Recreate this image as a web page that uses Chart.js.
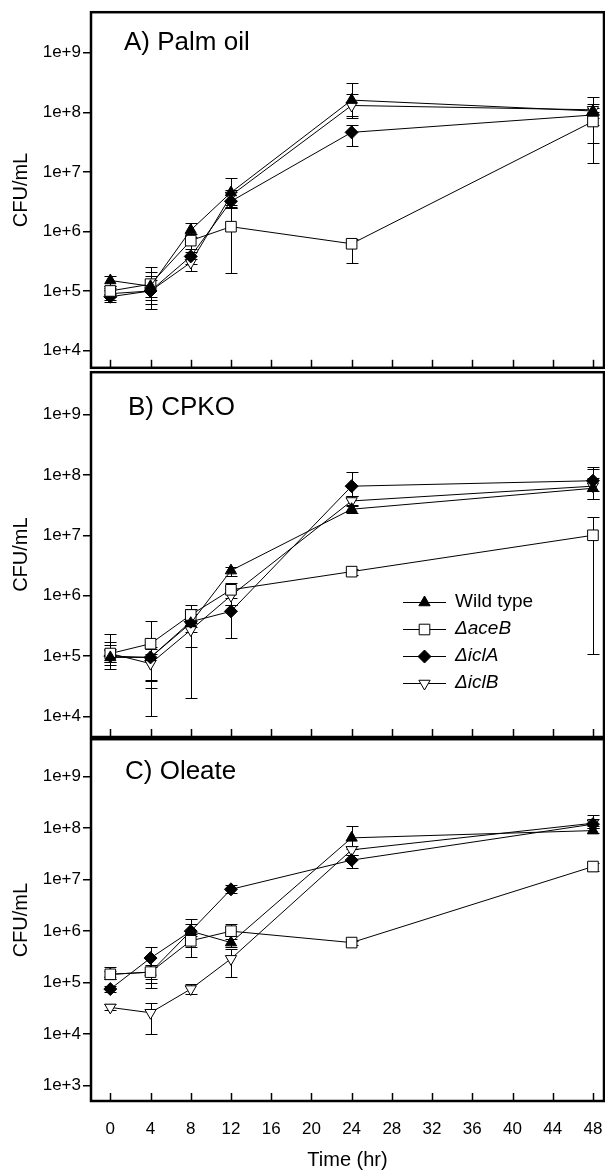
<!DOCTYPE html>
<html>
<head>
<meta charset="utf-8">
<script src="https://cdn.jsdelivr.net/npm/chart.js@4.4.1/dist/chart.umd.min.js"></script>
<style>
  body { margin: 0; background: #fff; }
  #wrap { position: relative; width: 605px; height: 1174px; }
  canvas { position: absolute; left: 0; }
</style>
</head>
<body>
<div id="wrap">
  <canvas id="chartA" width="605" height="380" style="top:0px"></canvas>
  <canvas id="chartB" width="605" height="390" style="top:360px"></canvas>
  <canvas id="chartC" width="605" height="447" style="top:727px"></canvas>
</div>
<script>
// sampling times (hr) and axis ticks
const times = [0, 4, 8, 12, 24, 48];
const xTicks = [0, 4, 8, 12, 16, 20, 24, 28, 32, 36, 40, 44, 48];
const yTicksAB = [1e4, 1e5, 1e6, 1e7, 1e8, 1e9];
const yTicksC = [1e3, 1e4, 1e5, 1e6, 1e7, 1e8, 1e9];
const seriesNames = ['Wild type', '\u0394aceB', '\u0394iclA', '\u0394iclB'];

// A) Palm oil
const palmWt = [1.5e5, 1.2e5, 1.05e6, 4.5e6, 1.6e8, 1.05e8];
const palmWtHi = [1.8e5, 2.5e5, 1.4e6, 8e6, 3.1e8, 1.8e8];
const palmWtLo = [1.2e5, 6e4, 8e5, 2.6e6, 8.5e7, 6e7];
const palmAce = [1.0e5, 1.3e5, 7e5, 1.2e6, 6.2e5, 7e7];
const palmAceHi = [1.2e5, 2.1e5, 9e5, 2.5e6, 7.5e5, 1.0e8];
const palmAceLo = [8e4, 8e4, 5e5, 2e5, 3e5, 1.4e7];
const palmIclA = [8e4, 1.0e5, 3.8e5, 3.2e6, 4.6e7, 9e7];
const palmIclAHi = [9e4, 1.8e5, 4.5e5, 4.5e6, 6e7, 1.2e8];
const palmIclALo = [6.5e4, 5e4, 2.8e5, 2.5e6, 2.7e7, 3e7];
const palmIclB = [9e4, 1.0e5, 3.0e5, 4e6, 1.3e8, 1.1e8];
const palmIclBHi = [1.1e5, 1.5e5, 3.5e5, 5e6, 2e8, 1.4e8];
const palmIclBLo = [7e4, 7e4, 2.2e5, 2.8e6, 8e7, 8e7];

// B) CPKO
const cpkoWt = [9.5e4, 9.5e4, 3.5e5, 2.6e6, 2.7e7, 6e7];
const cpkoWtHi = [1.3e5, 1.3e5, 5e5, 3e6, 3.2e7, 1.35e8];
const cpkoWtLo = [7e4, 4e4, 2.5e5, 2.1e6, 2.3e7, 4e7];
const cpkoAce = [1.1e5, 1.6e5, 4.8e5, 1.25e6, 2.5e6, 1e7];
const cpkoAceHi = [1.7e5, 3.8e5, 7e5, 1.6e6, 2.8e6, 2e7];
const cpkoAceLo = [8e4, 1e4, 3e5, 9e5, 2.2e6, 1.1e5];
const cpkoIclA = [1.0e5, 9.5e4, 3.7e5, 5.5e5, 6.5e7, 8e7];
const cpkoIclAHi = [1.5e5, 1.4e5, 6e5, 7e5, 1.1e8, 1.25e8];
const cpkoIclALo = [6e4, 3e4, 1.4e5, 2e5, 4.5e7, 5.5e7];
const cpkoIclB = [1.1e5, 7.5e4, 2.7e5, 1.0e6, 3.7e7, 6.5e7];
const cpkoIclBHi = [2.3e5, 1.1e5, 3.5e5, 1.3e6, 4.5e7, 9e7];
const cpkoIclBLo = [8e4, 3.8e4, 2e4, 7e5, 3e7, 4e7];

// C) Oleate
const oleWt = [1.45e5, 1.6e5, 1.0e6, 6e5, 6.5e7, 9e7];
const oleWtHi = [1.7e5, 2e5, 1.7e6, 7e5, 1.1e8, 1.1e8];
const oleWtLo = [1.2e5, 1.2e5, 5e5, 5e5, 4e7, 8e7];
const oleAce = [1.45e5, 1.6e5, 6.5e5, 1.0e6, 6e5, 1.8e7];
const oleAceHi = [2e5, 2.2e5, 9e5, 1.4e6, 6.5e5, 2.1e7];
const oleAceLo = [1.2e5, 8e4, 3.2e5, 8e5, 5.5e5, 1.5e7];
const oleIclA = [7.5e4, 3e5, 1.0e6, 6.5e6, 2.4e7, 1.2e8];
const oleIclAHi = [8.5e4, 5e5, 1.4e6, 8e6, 3e7, 1.5e8];
const oleIclALo = [6.5e4, 1e5, 8e5, 5.5e6, 1.7e7, 1e8];
const oleIclB = [3.3e4, 2.6e4, 7.5e4, 2.9e5, 3.8e7, 1.25e8];
const oleIclBHi = [3.8e4, 4e4, 9.5e4, 4.5e5, 4.5e7, 1.8e8];
const oleIclBLo = [2.9e4, 1e4, 6e4, 1.3e5, 3e7, 1e8];

const FONT = '"Liberation Sans", Arial, sans-serif';

const markers = [
  { pointStyle: 'triangle', bg: '#000', radius: 6.5, rotation: 0 },
  { pointStyle: 'rect', bg: '#fff', radius: 7.5, rotation: 0 },
  { pointStyle: 'rectRot', bg: '#000', radius: 6.5, rotation: 0 },
  { pointStyle: 'triangle', bg: '#fff', radius: 6.5, rotation: 180 }
];

function makeDataset(i, vals, hi, lo, order) {
  const m = markers[i];
  return {
    label: seriesNames[i],
    data: times.map((t, k) => ({ x: t, y: vals[k] })),
    errHi: hi,
    errLo: lo,
    order: order || 0,
    borderColor: '#000',
    borderWidth: 1,
    pointStyle: m.pointStyle,
    pointRadius: m.radius,
    pointHoverRadius: m.radius,
    pointRotation: m.rotation,
    pointBackgroundColor: m.bg,
    pointBorderColor: '#000',
    pointBorderWidth: 1,
    tension: 0,
    clip: false
  };
}

// error bars, drawn under the markers
const errorBars = {
  id: 'errorBars',
  beforeDatasetsDraw(chart) {
    const { ctx, scales: { x, y } } = chart;
    ctx.save();
    ctx.strokeStyle = '#000';
    ctx.lineWidth = 1;
    chart.data.datasets.forEach(ds => {
      ds.data.forEach((p, k) => {
        const px = Math.round(x.getPixelForValue(p.x)) + 0.5;
        const top = Math.round(y.getPixelForValue(ds.errHi[k])) + 0.5;
        const bot = Math.round(y.getPixelForValue(ds.errLo[k])) + 0.5;
        ctx.beginPath();
        ctx.moveTo(px, top); ctx.lineTo(px, bot);
        ctx.moveTo(px - 6, top); ctx.lineTo(px + 6, top);
        ctx.moveTo(px - 6, bot); ctx.lineTo(px + 6, bot);
        ctx.stroke();
      });
    });
    ctx.restore();
  }
};

// frame, inward x ticks and panel title
const framePlugin = {
  id: 'frame',
  afterDraw(chart, args, opts) {
    const { ctx, chartArea: a, scales: { x } } = chart;
    ctx.save();
    ctx.strokeStyle = '#000';
    ctx.lineWidth = 1.5;
    xTicks.forEach(t => {
      const px = Math.round(x.getPixelForValue(t)) + 0.5;
      ctx.beginPath();
      ctx.moveTo(px, a.bottom);
      ctx.lineTo(px, a.bottom - 8);
      ctx.stroke();
    });
    ctx.lineWidth = 2.5;
    ctx.strokeRect(a.left, a.top, a.right - a.left, a.bottom - a.top);
    ctx.fillStyle = '#000';
    ctx.font = '26px ' + FONT;
    ctx.textBaseline = 'middle';
    ctx.textAlign = 'left';
    ctx.fillText(opts.text, opts.x, opts.y);
    ctx.restore();
  }
};

// legend inside panel B
const legendPlugin = {
  id: 'innerLegend',
  afterDraw(chart, args, opts) {
    if (!opts.show) return;
    const { ctx } = chart;
    ctx.save();
    seriesNames.forEach((name, i) => {
      const y = opts.top + i * 27;
      ctx.strokeStyle = '#000';
      ctx.lineWidth = 1;
      ctx.beginPath();
      ctx.moveTo(403, y + 0.5);
      ctx.lineTo(446, y + 0.5);
      ctx.stroke();
      const m = markers[i];
      ctx.fillStyle = m.bg;
      Chart.helpers.drawPoint(ctx, {
        pointStyle: m.pointStyle, radius: m.radius, rotation: m.rotation, borderWidth: 1
      }, 424.5, y + 0.5);
      ctx.fillStyle = '#000';
      ctx.font = (i === 0 ? '' : 'italic ') + '19px ' + FONT;
      ctx.textBaseline = 'middle';
      ctx.textAlign = 'left';
      ctx.fillText(name, 455, y);
    });
    ctx.restore();
  }
};

function makeChart(id, datasets, o) {
  const yTicks = o.yTicks;
  return new Chart(document.getElementById(id), {
    type: 'line',
    data: { datasets },
    options: {
      responsive: false,
      animation: false,
      events: [],
      layout: { autoPadding: false, padding: { top: o.padTop, bottom: o.padBottom, left: 0, right: 1 } },
      plugins: {
        legend: { display: false },
        tooltip: { enabled: false },
        frame: { text: o.title, x: o.titleX, y: o.titleY },
        innerLegend: { show: !!o.legend, top: o.legendTop }
      },
      scales: {
        x: {
          type: 'linear',
          min: -1.92,
          max: 49.1,
          afterBuildTicks: s => { s.ticks = xTicks.map(v => ({ value: v })); },
          afterFit: s => {
            s.height = o.showX ? 73 : 0;
            s.paddingLeft = 0;
            s.paddingRight = 0;
          },
          border: { display: false },
          grid: { display: false },
          ticks: {
            display: !!o.showX,
            color: '#000',
            padding: 10,
            autoSkip: false,
            maxRotation: 0,
            font: { family: FONT, size: 17 }
          },
          title: {
            display: !!o.showX,
            text: 'Time (hr)',
            color: '#000',
            font: { family: FONT, size: 20 },
            padding: { top: 0, bottom: 2 }
          }
        },
        y: {
          type: 'logarithmic',
          min: o.yMin,
          max: o.yMax,
          afterBuildTicks: s => { s.ticks = yTicks.map(v => ({ value: v })); },
          afterFit: s => { s.width = 91; },
          border: { display: false },
          grid: {
            drawOnChartArea: false,
            drawTicks: true,
            tickLength: 8,
            tickColor: '#000',
            lineWidth: 1.5
          },
          ticks: {
            color: '#000',
            padding: 2,
            autoSkip: false,
            font: { family: FONT, size: 17 },
            callback: v => '1e+' + Math.round(Math.log10(v))
          },
          title: {
            display: true,
            text: 'CFU/mL',
            color: '#000',
            font: { family: FONT, size: 20 },
            padding: { top: 9, bottom: 0 }
          }
        }
      }
    },
    plugins: [errorBars, framePlugin, legendPlugin]
  });
}

makeChart('chartA', [
  makeDataset(0, palmWt, palmWtHi, palmWtLo),
  makeDataset(1, palmAce, palmAceHi, palmAceLo),
  makeDataset(2, palmIclA, palmIclAHi, palmIclALo),
  makeDataset(3, palmIclB, palmIclBHi, palmIclBLo)
], { padTop: 8, padBottom: 9, yMin: Math.pow(10, 3.71), yMax: Math.pow(10, 9.68),
     yTicks: yTicksAB, title: 'A) Palm oil', titleX: 124, titleY: 43 });

makeChart('chartB', [
  makeDataset(0, cpkoWt, cpkoWtHi, cpkoWtLo),
  makeDataset(1, cpkoAce, cpkoAceHi, cpkoAceLo),
  makeDataset(2, cpkoIclA, cpkoIclAHi, cpkoIclALo),
  makeDataset(3, cpkoIclB, cpkoIclBHi, cpkoIclBLo)
], { padTop: 11, padBottom: 13, yMin: Math.pow(10, 3.66), yMax: Math.pow(10, 9.70),
     yTicks: yTicksAB, title: 'B) CPKO', titleX: 128, titleY: 48, legend: true, legendTop: 242 });

// in panel C the open squares sit on top of the wild type markers
makeChart('chartC', [
  makeDataset(0, oleWt, oleWtHi, oleWtLo, 2),
  makeDataset(1, oleAce, oleAceHi, oleAceLo, 0),
  makeDataset(2, oleIclA, oleIclAHi, oleIclALo, 1),
  makeDataset(3, oleIclB, oleIclBHi, oleIclBLo, 3)
], { padTop: 10, padBottom: 0, yMin: Math.pow(10, 2.70), yMax: Math.pow(10, 9.73),
     yTicks: yTicksC, title: 'C) Oleate', titleX: 125, titleY: 45, showX: true });
</script>
</body>
</html>
